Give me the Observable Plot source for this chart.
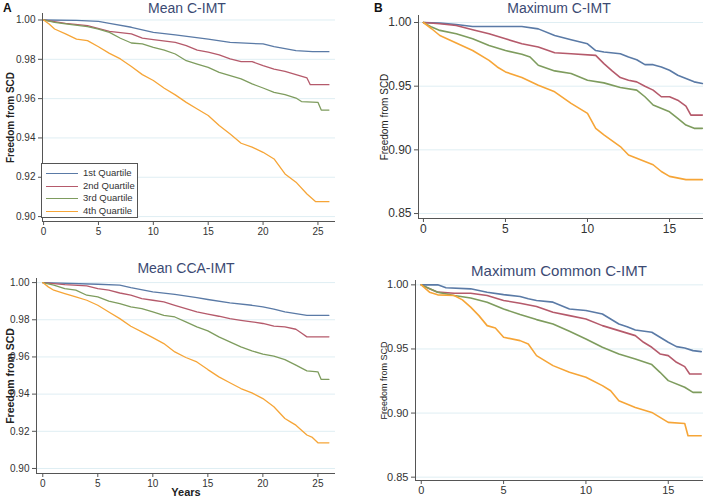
<!DOCTYPE html>
<html>
<head>
<meta charset="utf-8">
<script src="https://cdn.jsdelivr.net/npm/d3@7"></script>
<script src="https://cdn.jsdelivr.net/npm/@observablehq/plot@0.6"></script>
<style>
  html, body { margin: 0; padding: 0; background: #fff; }
  #root { position: relative; width: 709px; height: 497px; overflow: hidden; background: #fff;
          font-family: "Liberation Sans", Arial, sans-serif; }
  .panel { position: absolute; }
  .title { position: absolute; color: #3b4a73; transform: translate(-50%, -50%); white-space: nowrap; line-height: 1; }
  .letter { position: absolute; font-weight: bold; font-size: 12px; color: #111; line-height: 1; }
  .legend { position: absolute; border: 1px solid #555; background: #fff; font-size: 9.5px; color: #333; }
  .legend .row { position: absolute; left: 0; height: 12px; }
  .legend .sw { position: absolute; top: 6px; width: 32px; height: 0; border-top: 1.3px solid; }
  .legend .lab { position: absolute; left: 41px; top: 0; line-height: 12px; white-space: nowrap; }
</style>
</head>
<body>
<div id="root"></div>
<script>
const quartiles = ["1st Quartile", "2nd Quartile", "3rd Quartile", "4th Quartile"];
const colors = ["#5a7aa6", "#b55a6b", "#7e9c5e", "#f6a537"];

// Panel A top: Mean C-IMT  [years, survival]
const meanCIMT_q1 = [[0,1],[3,0.9998],[5,0.9993],[6,0.9983],[8,0.9963],[10,0.9937],[12,0.9924],[15,0.9903],[17,0.9886],[20,0.9878],[21,0.9864],[23,0.9844],[24.5,0.9839],[26,0.9839]];
const meanCIMT_q2 = [[0,1],[2,0.9983],[4,0.9971],[6,0.9942],[8,0.9929],[9,0.9908],[10,0.9900],[12,0.9886],[13,0.9870],[14,0.9847],[15,0.9836],[16,0.9822],[17,0.9802],[18,0.9788],[19,0.9788],[20,0.9768],[21,0.9750],[22,0.9739],[23,0.9722],[24,0.9705],[24.3,0.9671],[26,0.9671]];
const meanCIMT_q3 = [[0,1],[1,0.9988],[2,0.9980],[4,0.9966],[5,0.9954],[6,0.9937],[7,0.9907],[8,0.9883],[9,0.9878],[10,0.9861],[11,0.9847],[12,0.9827],[13,0.9793],[14,0.9776],[15,0.9759],[16,0.9734],[17,0.9717],[18,0.9700],[19,0.9675],[20,0.9654],[21,0.9632],[22,0.9620],[23,0.9603],[23.5,0.9585],[25,0.9581],[25.3,0.9542],[26,0.9542]];
const meanCIMT_q4 = [[0,1],[0.5,0.9980],[1,0.9954],[2,0.9929],[3,0.9903],[4,0.9895],[5,0.9864],[6,0.9830],[7,0.9802],[8,0.9763],[9,0.9722],[10,0.9692],[11,0.9653],[12,0.9619],[13,0.9581],[14,0.9547],[15,0.9514],[16,0.9463],[17,0.9420],[18,0.9373],[19,0.9353],[20,0.9327],[21,0.9293],[22,0.9217],[23,0.9175],[24,0.9115],[24.8,0.9076],[26,0.9076]];

// Panel B top: Maximum C-IMT
const maxCIMT_q1 = [[0,1],[1,0.9995],[2,0.9984],[3,0.9969],[6,0.9969],[7,0.9950],[8,0.9898],[9,0.9865],[10,0.9833],[10.5,0.9780],[11,0.9768],[12,0.9755],[12.5,0.9729],[13,0.9708],[13.5,0.9669],[14,0.9669],[14.5,0.9651],[15,0.9625],[15.5,0.9586],[16,0.9560],[16.5,0.9534],[17,0.9521]];
const maxCIMT_q2 = [[0,1],[1,0.9990],[2,0.9977],[3,0.9943],[4,0.9911],[5,0.9872],[6,0.9833],[7,0.9807],[8,0.9763],[9,0.9755],[10.5,0.9742],[11,0.9677],[11.5,0.9620],[12,0.9568],[12.5,0.9547],[13,0.9534],[13.5,0.9500],[14,0.9469],[14.5,0.9417],[15,0.9417],[15.5,0.9390],[16,0.9344],[16.3,0.9273],[17,0.9273]];
const maxCIMT_q3 = [[0,1],[0.5,0.9964],[1,0.9938],[2,0.9911],[3,0.9872],[4,0.9820],[5,0.9780],[6,0.9750],[6.5,0.9729],[7,0.9664],[8,0.9620],[9,0.9599],[10,0.9547],[11,0.9526],[12,0.9490],[13,0.9469],[13.5,0.9417],[14,0.9352],[15,0.9299],[15.5,0.9247],[16,0.9195],[16.5,0.9169],[17,0.9169]];
const maxCIMT_q4 = [[0,1],[0.5,0.9951],[1,0.9898],[2,0.9839],[3,0.9780],[4,0.9703],[4.5,0.9651],[5,0.9612],[6,0.9568],[7,0.9508],[8,0.9456],[9,0.9365],[10,0.9286],[10.5,0.9169],[11,0.9117],[12,0.9026],[12.5,0.8960],[13,0.8935],[14,0.8883],[14.5,0.8830],[15,0.8792],[16,0.8766],[17,0.8766]];

// Panel A bottom: Mean CCA-IMT
const meanCCA_q1 = [[0,1],[5,0.9991],[7,0.9986],[8,0.9973],[10,0.9950],[12,0.9937],[14,0.9919],[15,0.9909],[17,0.9891],[19,0.9878],[20,0.9869],[21,0.9857],[22,0.9842],[23,0.9833],[24,0.9824],[26,0.9824]];
const meanCCA_q2 = [[0,1],[2,0.9989],[4,0.9982],[5,0.9968],[6,0.9959],[7,0.9944],[8,0.9932],[9,0.9914],[10,0.9905],[11,0.9896],[12,0.9878],[13,0.9860],[14,0.9842],[15,0.9830],[16,0.9819],[17,0.9806],[18,0.9797],[19,0.9789],[20,0.9780],[21,0.9766],[22,0.9762],[23,0.9749],[23.5,0.9729],[24,0.9708],[26,0.9708]];
const meanCCA_q3 = [[0,1],[1,0.9986],[2,0.9968],[3,0.9959],[4,0.9932],[5,0.9923],[6,0.9900],[7,0.9887],[8,0.9869],[9,0.9860],[10,0.9842],[11,0.9824],[12,0.9815],[13,0.9789],[14,0.9762],[15,0.9740],[16,0.9708],[17,0.9681],[18,0.9654],[19,0.9633],[20,0.9615],[21,0.9604],[22,0.9586],[23,0.9556],[24,0.9525],[25,0.9520],[25.3,0.9479],[26,0.9479]];
const meanCCA_q4 = [[0,1],[0.5,0.9977],[1,0.9959],[2,0.9941],[3,0.9923],[4,0.9905],[5,0.9878],[6,0.9842],[7,0.9806],[8,0.9765],[9,0.9735],[10,0.9704],[11,0.9672],[12,0.9627],[13,0.9597],[14,0.9573],[15,0.9532],[16,0.9493],[17,0.9461],[18,0.9430],[19,0.9407],[20,0.9376],[21,0.9332],[22,0.9269],[22.5,0.9251],[23,0.9233],[24,0.9180],[24.5,0.9167],[25,0.9138],[26,0.9138]];

// Panel B bottom: Maximum Common C-IMT
const maxCommon_q1 = [[0,1],[1,1],[1.5,0.9977],[3,0.9969],[4,0.9943],[5,0.9924],[6,0.9909],[6.5,0.9891],[7,0.9878],[8,0.9865],[9,0.9812],[10,0.9800],[11,0.9773],[11.5,0.9734],[12,0.9695],[12.5,0.9674],[13,0.9648],[14,0.9630],[14.5,0.9591],[15,0.9552],[15.5,0.9518],[16,0.9508],[16.5,0.9487],[17,0.9479]];
const maxCommon_q2 = [[0,1],[0.5,0.9969],[1,0.9943],[2,0.9935],[3,0.9935],[4,0.9917],[5,0.9878],[6,0.9857],[7,0.9831],[8,0.9786],[9,0.9760],[10,0.9734],[11,0.9682],[12,0.9643],[13,0.9604],[13.5,0.9552],[14,0.9513],[14.5,0.9461],[15,0.9448],[15.5,0.9396],[16,0.9362],[16.3,0.9305],[17,0.9305]];
const maxCommon_q3 = [[0,1],[1,0.9943],[2,0.9917],[3,0.9898],[4,0.9865],[5,0.9812],[6,0.9768],[7,0.9729],[8,0.9695],[9,0.9638],[10,0.9578],[11,0.9513],[12,0.9461],[13,0.9422],[14,0.9378],[14.5,0.9318],[15,0.9253],[16,0.9201],[16.5,0.9161],[17,0.9161]];
const maxCommon_q4 = [[0,1],[0.5,0.9943],[1,0.9922],[2,0.9917],[2.5,0.9883],[3,0.9826],[3.5,0.9760],[4,0.9682],[4.5,0.9664],[5,0.9591],[6,0.9565],[6.5,0.9539],[7,0.9448],[8,0.9370],[9,0.9318],[10,0.9279],[11,0.9214],[11.5,0.9174],[12,0.9096],[13,0.9044],[14,0.9005],[14.5,0.8966],[15,0.8927],[16,0.8919],[16.2,0.8823],[17,0.8823]];

const xTicksA = [0, 5, 10, 15, 20, 25];
const xTicksB = [0, 5, 10, 15];
const yTicksA = [0.90, 0.92, 0.94, 0.96, 0.98, 1.00];
const yTicksB = [0.85, 0.90, 0.95, 1.00];

const titles = ["Mean C-IMT", "Maximum C-IMT", "Mean CCA-IMT", "Maximum Common C-IMT"];
const yLabel = "Freedom from SCD";
const xLabel = "Years";

function rows(seriesList) {
  const out = [];
  seriesList.forEach((s, i) => s.forEach(([t, v]) => out.push({t, v, q: quartiles[i]})));
  return out;
}

const root = document.getElementById("root");

function panel(o) {
  const data = rows(o.series);
  const chart = Plot.plot({
    width: o.w, height: o.h,
    marginLeft: o.ml, marginRight: o.mr, marginTop: o.mt, marginBottom: o.mb,
    style: {fontFamily: '"Liberation Sans", Arial, sans-serif', fontSize: o.tickFont + "px", color: "#333", background: "transparent"},
    x: {domain: o.xd},
    y: {domain: o.yd},
    color: {domain: quartiles, range: colors},
    marks: [
      Plot.gridY(o.yt, {stroke: "#dfeef3", strokeOpacity: 1, strokeWidth: 1}),
      Plot.line(data, {x: "t", y: "v", z: "q", stroke: "q", strokeWidth: o.sw}),
      Plot.ruleX([o.xd[0]], {stroke: "#555", strokeWidth: 1}),
      Plot.ruleY([o.yd[0]], {stroke: "#555", strokeWidth: 1}),
      Plot.axisY(o.yt, {tickSize: 4, tickPadding: 3, tickFormat: d3.format(".2f"), stroke: "#555",
        label: yLabel, labelAnchor: "center", labelArrow: "none", labelOffset: o.lo,
        fontSize: o.tickFont}),
      Plot.axisX(o.xt, {tickSize: 4, tickPadding: 2, stroke: "#555", tickFormat: d3.format("d"),
        label: o.xlab || null, labelAnchor: "center", labelArrow: "none", labelOffset: 22})
    ]
  });
  chart.querySelectorAll("[aria-label='y-axis label'] text").forEach(t => {
    t.setAttribute("font-size", o.labFont); t.setAttribute("font-weight", o.labWeight); t.setAttribute("fill", "#222");
  });
  chart.querySelectorAll("[aria-label='x-axis label'] text").forEach(t => {
    t.setAttribute("font-size", 11); t.setAttribute("font-weight", "bold"); t.setAttribute("fill", "#222");
  });
  const wrap = document.createElement("div");
  wrap.className = "panel";
  wrap.style.left = o.left + "px"; wrap.style.top = o.top + "px";
  wrap.appendChild(chart);
  root.appendChild(wrap);

  const ti = document.createElement("div");
  ti.className = "title";
  ti.textContent = o.title;
  ti.style.left = o.tx + "px"; ti.style.top = o.ty + "px"; ti.style.fontSize = o.titleFont + "px";
  root.appendChild(ti);
}

panel({left: 0, top: 0, w: 345, h: 245, ml: 42, mr: 10, mt: 13, mb: 24,
  xd: [-0.1, 26.6], yd: [0.8975, 1.0033], xt: xTicksA, yt: yTicksA, lo: 36, sw: 1.3,
  tickFont: 10, labFont: 10, labWeight: "bold", series: [meanCIMT_q1, meanCIMT_q2, meanCIMT_q3, meanCIMT_q4],
  title: titles[0], tx: 187, ty: 8, titleFont: 14});

panel({left: 355, top: 0, w: 354, h: 245, ml: 63, mr: 6, mt: 15, mb: 27,
  xd: [-0.3, 17.07], yd: [0.8461, 1.0055], xt: xTicksB, yt: yTicksB, lo: 38, sw: 1.6,
  tickFont: 12, labFont: 10, labWeight: "normal", series: [maxCIMT_q1, maxCIMT_q2, maxCIMT_q3, maxCIMT_q4],
  title: titles[1], tx: 559, ty: 8, titleFont: 14});

panel({left: 0, top: 250, w: 345, h: 247, ml: 36, mr: 10, mt: 28, mb: 24,
  xd: [-0.57, 26.6], yd: [0.8973, 1.0022], xt: xTicksA, yt: yTicksA, lo: 30, sw: 1.3,
  tickFont: 10, labFont: 10.5, labWeight: "bold", series: [meanCCA_q1, meanCCA_q2, meanCCA_q3, meanCCA_q4], xlab: xLabel,
  title: titles[2], tx: 186, ty: 268, titleFont: 14});

panel({left: 355, top: 250, w: 354, h: 247, ml: 60, mr: 6, mt: 30, mb: 17,
  xd: [-0.35, 17.14], yd: [0.8474, 1.0034], xt: xTicksB, yt: yTicksB, lo: 35, sw: 1.6,
  tickFont: 11, labFont: 9, labWeight: "normal", series: [maxCommon_q1, maxCommon_q2, maxCommon_q3, maxCommon_q4],
  title: titles[3], tx: 559, ty: 270, titleFont: 15});

// Panel letters
[["A", 3, 2], ["B", 374, 2]].forEach(([s, x, y]) => {
  const d = document.createElement("div");
  d.className = "letter"; d.textContent = s; d.style.left = x + "px"; d.style.top = y + "px";
  root.appendChild(d);
});

// Legend (panel A top)
const lg = document.createElement("div");
lg.className = "legend";
lg.style.left = "41px"; lg.style.top = "163px"; lg.style.width = "95px"; lg.style.height = "53px";
quartiles.forEach((q, i) => {
  const r = document.createElement("div");
  r.className = "row"; r.style.top = (3 + i * 12.6) + "px"; r.style.width = "95px";
  const sw = document.createElement("div");
  sw.className = "sw"; sw.style.left = "4px"; sw.style.borderTopColor = colors[i];
  const lab = document.createElement("div");
  lab.className = "lab"; lab.textContent = q;
  r.appendChild(sw); r.appendChild(lab); lg.appendChild(r);
});
root.appendChild(lg);
</script>
</body>
</html>
